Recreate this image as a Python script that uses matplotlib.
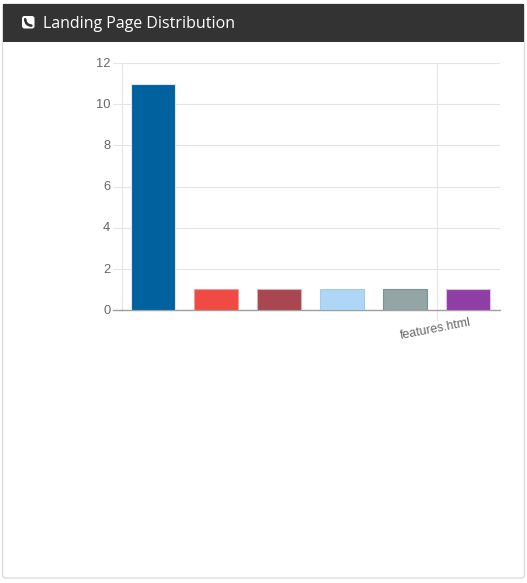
import matplotlib
matplotlib.use('Agg')
import matplotlib.pyplot as plt
from matplotlib.patches import FancyBboxPatch, PathPatch, Rectangle
from matplotlib.path import Path
from matplotlib.transforms import ScaledTranslation

W, H = 527, 583

# Data
slots = [0, 1, 2, 3, 4, 5]
visits = [11, 1, 1, 1, 1, 1]
bar_colors = ['#00619f', '#ef4a43', '#a8474f', '#aed6f6', '#93a5a4', '#8e3ea4']
bar_edges = ['#dfe6ea', '#e6a09c', '#d4b0b4', '#a9c9dd', '#7d918f', '#d9c6de']
y_ticks = [0, 2, 4, 6, 8, 10, 12]
x_ticks = [4.5]
x_labels = ['features.html']

plt.rcParams['font.family'] = ['Liberation Sans', 'DejaVu Sans']

fig = plt.figure(figsize=(W / 100, H / 100), dpi=100, facecolor='white')

# Panel frame and dark header, in pixel coordinates
bg = fig.add_axes([0, 0, 1, 1])
bg.set_xlim(0, W)
bg.set_ylim(H, 0)
bg.axis('off')
bg.add_patch(FancyBboxPatch((2.5, 4), 522, 574, boxstyle='round,pad=0,rounding_size=3',
                            fc='white', ec='#dcdcdc', lw=1))
bg.add_patch(Rectangle((3, 4), 521, 38, fc='#333333', ec='none'))
bg.add_patch(FancyBboxPatch((22, 16), 12.5, 12.5, boxstyle='round,pad=0,rounding_size=2.5',
                            fc='white', ec='none'))
# phone handset
phone = Path([(25.2, 19.2), (25.6, 25.2), (31.4, 25.6)], [Path.MOVETO, Path.CURVE3, Path.CURVE3])
bg.add_patch(PathPatch(phone, fc='none', ec='#333333', lw=1.9, capstyle='round'))
bg.text(43, 24, 'Landing Page Distribution', color='white', fontsize=11.5,
        family='Open Sans', ha='left', va='center')

# Chart area
left, right, top, bottom = 121.5, 499.5, 63, 310
ax = fig.add_axes([left / W, 1 - bottom / H, (right - left) / W, (bottom - top) / H])
ax.patch.set_alpha(0)
ax.bar(slots, visits, width=0.69, color=bar_colors, edgecolor=bar_edges, linewidth=0.8, zorder=3)
ax.set_xlim(-0.5, 5.5)
ax.set_ylim(0, 12)
ax.set_yticks(y_ticks)
ax.set_xticks(x_ticks)
ax.set_xticklabels(x_labels, rotation=11, rotation_mode='anchor', ha='center', va='top')
ax.grid(True, color='#e4e4e4', linewidth=0.8, zorder=0)
ax.set_axisbelow(True)
ax.tick_params(axis='y', length=6.5, width=0.8, color='#e4e4e4', labelcolor='#666666',
               labelsize=9.3, pad=1.5)
ax.tick_params(axis='x', length=7, width=0.8, color='#e4e4e4', labelcolor='#666666',
               labelsize=8.9, pad=2.5)

# nudge tick labels onto their reference spots
for label in ax.get_yticklabels():
    label.set_verticalalignment('center')
    label.set_transform(label.get_transform() + ScaledTranslation(0, -0.8 / 100, fig.dpi_scale_trans))
for label in ax.get_xticklabels():
    label.set_transform(label.get_transform() + ScaledTranslation(-2.2 / 100, 0, fig.dpi_scale_trans))

for name in ['top', 'right']:
    ax.spines[name].set_visible(False)
ax.spines['left'].set_color('#e4e4e4')
ax.spines['left'].set_linewidth(0.8)
ax.spines['bottom'].set_color('#a0a0a0')
ax.spines['bottom'].set_linewidth(1)
ax.plot([-0.64, -0.5], [0, 0], color='#a0a0a0', lw=1, clip_on=False, zorder=4)

fig.savefig('out.png', dpi=100)
